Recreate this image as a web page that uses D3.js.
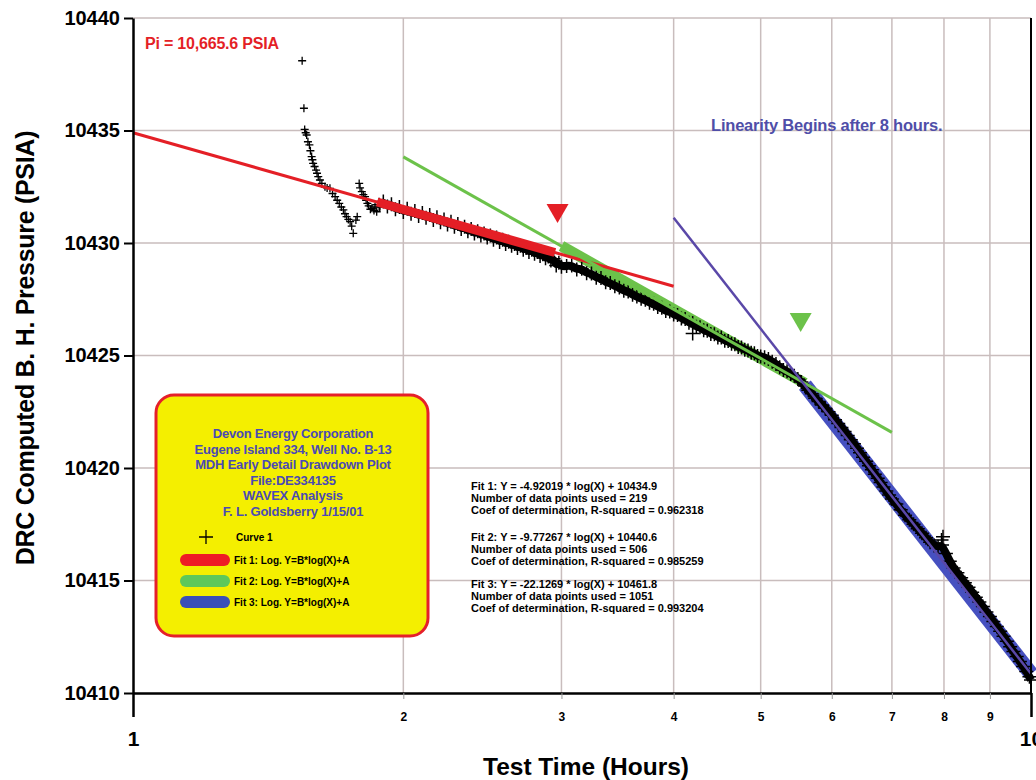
<!DOCTYPE html>
<html>
<head>
<meta charset="utf-8">
<script src="https://cdn.jsdelivr.net/npm/d3@7"></script>
<style>
  body { margin: 0; background: #fff; }
  text { font-family: "Liberation Sans", Arial, sans-serif; font-weight: bold; }
</style>
</head>
<body>
<script>
// ---- data ----
const yTicks = [10410, 10415, 10420, 10425, 10430, 10435, 10440];
const xMinorTicks = [2, 3, 4, 5, 6, 7, 8, 9];
const xMajorTicks = [1, 10];

// early transient (time hrs, pressure psia)
const curveEarly = [
  [1.543,10438.10],[1.550,10435.99],[1.553,10435.05],[1.557,10434.90],[1.561,10434.80],[1.566,10434.50],
  [1.572,10434.36],[1.576,10434.10],[1.581,10433.84],[1.584,10433.70],[1.587,10433.54],[1.593,10433.40],
  [1.599,10433.24],[1.603,10433.10],[1.608,10432.95],[1.615,10432.80],[1.623,10432.65],[1.636,10432.50],
  [1.645,10432.45],[1.657,10432.43],[1.668,10432.20],[1.679,10432.06],[1.688,10431.90],[1.697,10431.76],
  [1.706,10431.60],[1.715,10431.47],[1.722,10431.30],[1.729,10431.17],[1.737,10431.05],[1.745,10430.95],
  [1.752,10430.75],[1.759,10430.43],[1.771,10431.02],[1.777,10431.17],[1.786,10432.65],[1.790,10432.45],
  [1.798,10432.28],[1.805,10432.15],[1.813,10432.06],[1.818,10431.90],[1.824,10431.76],[1.830,10431.65],
  [1.838,10431.50],[1.845,10431.54],[1.855,10431.45],[1.860,10431.60],[1.868,10431.39],[1.884,10431.61]
];

// fit 1 zone
const curveZone1 = [
  [1.88,10431.70],[1.90,10431.85],[1.92,10431.62],[1.94,10431.72],[1.96,10431.50],[1.98,10431.60],
  [2.00,10431.38],[2.02,10431.52],[2.04,10431.30],[2.06,10431.42],[2.08,10431.20],[2.10,10431.33],
  [2.12,10431.12],[2.14,10431.24],[2.16,10431.02],[2.18,10431.14],[2.20,10430.92],[2.22,10431.04],
  [2.24,10430.82],[2.26,10430.94],[2.28,10430.72],[2.30,10430.84],[2.32,10430.62],[2.34,10430.72],
  [2.36,10430.52],[2.38,10430.62],[2.40,10430.42],[2.42,10430.52],[2.44,10430.33],[2.46,10430.42],
  [2.48,10430.24],[2.50,10430.33],[2.52,10430.14],[2.54,10430.24],[2.56,10430.05],[2.58,10430.14],
  [2.60,10429.96],[2.62,10430.06],[2.64,10429.88],[2.66,10429.96],[2.68,10429.78],[2.70,10429.88],
  [2.72,10429.70],[2.74,10429.78],[2.76,10429.60],[2.78,10429.70],[2.80,10429.52],[2.82,10429.60],
  [2.84,10429.42],[2.86,10429.50],[2.88,10429.32],[2.90,10429.40],[2.92,10429.22],[2.94,10429.30],
  [2.96,10429.00],[2.98,10429.12],[3.00,10428.95]
];

// fit 2 zone
const curveZone2 = [
  [3.04,10428.98],[3.08,10429.00],[3.12,10428.82],[3.16,10428.86],[3.20,10428.66],[3.24,10428.64],
  [3.28,10428.46],[3.32,10428.44],[3.36,10428.26],[3.40,10428.22],[3.44,10428.08],[3.48,10428.02],
  [3.52,10427.88],[3.56,10427.84],[3.60,10427.70],[3.64,10427.62],[3.68,10427.52],[3.72,10427.48],
  [3.76,10427.34],[3.80,10427.30],[3.84,10427.16],[3.88,10427.12],[3.92,10426.98],[3.96,10426.96],
  [4.00,10426.82],[4.04,10426.80],[4.08,10426.64],[4.12,10426.62],[4.16,10426.46],[4.20,10426.44],
  [4.24,10426.28],[4.28,10426.26],[4.32,10426.12],[4.36,10426.10],[4.40,10425.96],
  [4.44,10425.94],[4.48,10425.80],[4.52,10425.80],[4.56,10425.66],[4.60,10425.64],[4.64,10425.52],
  [4.68,10425.50],[4.72,10425.38],[4.76,10425.36],[4.80,10425.26],[4.84,10425.22],[4.88,10425.12],
  [4.92,10425.10],[4.96,10424.98],[5.00,10424.96]
];

// fit 3 zone
const curveZone3 = [
  [5.05,10424.92],[5.10,10424.84],[5.15,10424.72],[5.20,10424.62],[5.25,10424.48],[5.30,10424.36],
  [5.35,10424.30],[5.40,10424.18],[5.45,10424.10],[5.50,10423.96],[5.55,10423.82],[5.60,10423.64],
  [5.65,10423.46],[5.70,10423.30],[5.75,10423.10],[5.80,10422.96],[5.85,10422.80],[5.90,10422.66],
  [5.95,10422.50],[6.00,10422.34],[6.05,10422.14],[6.10,10421.98],[6.15,10421.80],[6.20,10421.62],
  [6.25,10421.44],[6.30,10421.26],[6.35,10421.08],[6.40,10420.88],[6.45,10420.68],[6.50,10420.48],
  [6.55,10420.30],[6.60,10420.10],[6.65,10419.92],[6.70,10419.72],[6.75,10419.54],[6.80,10419.36],
  [6.85,10419.16],[6.90,10418.98],[6.95,10418.80],[7.00,10418.62],[7.08,10418.40],[7.16,10418.14],
  [7.24,10417.90],[7.32,10417.70],[7.40,10417.50],[7.48,10417.30],[7.56,10417.10],[7.64,10416.90],
  [7.72,10416.70],[7.80,10416.56],[7.88,10416.50],[7.96,10416.58],
  [8.04,10416.20],[8.12,10415.86],[8.20,10415.56],[8.28,10415.34],[8.36,10415.12],[8.44,10414.90],
  [8.52,10414.70],[8.60,10414.48],[8.68,10414.26],[8.76,10414.04],[8.84,10413.84],[8.92,10413.60],
  [9.00,10413.40],[9.08,10413.18],[9.16,10412.96],[9.24,10412.74],[9.32,10412.52],[9.40,10412.30],
  [9.48,10412.06],[9.56,10411.84],[9.64,10411.62],[9.72,10411.40],[9.80,10411.18],[9.88,10410.96],
  [9.96,10410.72],[10.00,10410.58]
];

// stray points off the main trend
const curveStray = [[4.20,10425.98],[7.95,10416.80],[7.98,10416.95]];

// fits: Y = B*ln(X) + A
const fitNames = ["Fit 1", "Fit 2", "Fit 3"];
const fitB = [-4.92019, -9.77267, -22.1269];
const fitA = [10434.9, 10440.6, 10461.8];
const fitCount = [219, 506, 1051];
const fitR2 = ["0.962318", "0.985259", "0.993204"];
const fitLineSpan = [[1, 4], [2, 7], [4, 10]];
const fitUsedSpan = [[1.87, 2.95], [3.0, 5.6], [5.6, 10]];

// downward triangle markers (tip time, tip pressure)
const markerTimes = [2.97, 5.54];
const markerPress = [10430.89, 10426.04];

const legendTitle = [
  "Devon Energy Corporation",
  "Eugene Island 334, Well No. B-13",
  "MDH Early Detail Drawdown Plot",
  "File:DE334135",
  "WAVEX Analysis",
  "F. L. Goldsberry 1/15/01"
];

// ---- drawing ----
const W = 1036, H = 780;
const svg = d3.select('body').append('svg').attr('width', W).attr('height', H);

const x = d3.scaleLog().domain([1, 10]).range([133, 1031]);
const y = d3.scaleLinear().domain([10410, 10440]).range([693, 18]);

const redC = '#e41f26', greenC = '#6cc24a', blueThin = '#5a48a8', blueThick = '#4650c0';
const fitColors = [redC, greenC, blueThin];

// grid
svg.append('g').selectAll('line').data(yTicks.filter(d => d > 10410)).join('line')
  .attr('x1', x(1)).attr('x2', x(10))
  .attr('y1', d => y(d)).attr('y2', d => y(d))
  .attr('stroke', '#c9bdbd').attr('stroke-width', 1.5);
svg.append('g').selectAll('line').data(xMinorTicks).join('line')
  .attr('x1', d => x(d)).attr('x2', d => x(d))
  .attr('y1', y(10440)).attr('y2', y(10410))
  .attr('stroke', '#c9bdbd').attr('stroke-width', 1.5);

const fitY = (i, t) => fitB[i] * Math.log(t) + fitA[i];

// thick fit bands under the data (fit 2, fit 3)
[[1, greenC, 11], [2, blueThick, 15]].forEach(([i, c, w]) => {
  const s = fitUsedSpan[i];
  svg.append('line')
    .attr('x1', x(s[0])).attr('y1', y(fitY(i, s[0])))
    .attr('x2', x(s[1])).attr('y2', y(fitY(i, s[1])))
    .attr('stroke', c).attr('stroke-width', w);
});

// data crosses
const crossPath = (d, s) => `M${x(d[0]) - s},${y(d[1])}h${2 * s}M${x(d[0])},${y(d[1]) - s}v${2 * s}`;
svg.append('g').selectAll('path').data(curveEarly).join('path')
  .attr('d', d => crossPath(d, 4))
  .attr('stroke', '#000').attr('stroke-width', 1.3).attr('fill', 'none');

const densePts = curveZone1.concat(curveZone2, curveZone3);
// the dense run of crosses merges into a solid band
svg.append('path').datum(densePts)
  .attr('d', d3.line().x(d => x(d[0])).y(d => y(d[1])).curve(d3.curveBasis))
  .attr('fill', 'none').attr('stroke', '#000').attr('stroke-width', 8).attr('stroke-linejoin', 'round');
svg.append('g').selectAll('path').data(densePts.concat(curveStray)).join('path')
  .attr('d', d => crossPath(d, 7))
  .attr('stroke', '#000').attr('stroke-width', 1.5).attr('fill', 'none');

// thick red band over fit 1 data
{
  const s = fitUsedSpan[0];
  svg.append('line')
    .attr('x1', x(s[0])).attr('y1', y(fitY(0, s[0])))
    .attr('x2', x(s[1])).attr('y2', y(fitY(0, s[1])))
    .attr('stroke', redC).attr('stroke-width', 9);
}

// thin fit lines
fitLineSpan.forEach((s, i) => {
  svg.append('line')
    .attr('x1', x(s[0])).attr('y1', y(fitY(i, s[0])))
    .attr('x2', x(s[1])).attr('y2', y(fitY(i, s[1])))
    .attr('stroke', fitColors[i]).attr('stroke-width', i === 2 ? 2.5 : 3);
});

// triangles
const triColors = [redC, greenC];
markerTimes.forEach((t, i) => {
  const tx = x(t), ty = y(markerPress[i]);
  svg.append('path')
    .attr('d', `M${tx},${ty}L${tx - 11},${ty - 19}L${tx + 11},${ty - 19}Z`)
    .attr('fill', triColors[i]);
});

// axes
const yAxis = svg.append('g').attr('transform', `translate(${x(1)},0)`)
  .call(d3.axisLeft(y).tickValues(yTicks).tickSize(9).tickSizeOuter(0).tickPadding(4).tickFormat(d3.format('d')));
yAxis.selectAll('text').style('font-size', '20px').attr('fill', '#000');
yAxis.selectAll('line').attr('stroke', '#000').attr('stroke-width', 2);
yAxis.select('.domain').attr('stroke', '#000').attr('stroke-width', 2.5);

const xAxisMinor = svg.append('g').attr('transform', `translate(0,${y(10410)})`)
  .call(d3.axisBottom(x).tickValues(xMinorTicks).tickSize(6).tickSizeOuter(0).tickPadding(13).tickFormat(d3.format('d')));
xAxisMinor.selectAll('text').style('font-size', '12px').attr('fill', '#000');
xAxisMinor.selectAll('line').attr('stroke', '#999');
xAxisMinor.select('.domain').attr('stroke', '#000').attr('stroke-width', 2.5);

const xAxisMajor = svg.append('g').attr('transform', `translate(0,${y(10410)})`)
  .call(d3.axisBottom(x).tickValues(xMajorTicks).tickSize(24).tickSizeOuter(0).tickPadding(14).tickFormat(d3.format('d')));
xAxisMajor.selectAll('text').style('font-size', '21px').attr('fill', '#000');
xAxisMajor.selectAll('line').attr('stroke', '#000').attr('stroke-width', 2.5);
xAxisMajor.select('.domain').remove();

// right border
svg.append('line').attr('x1', x(10)).attr('x2', x(10)).attr('y1', y(10440)).attr('y2', y(10410))
  .attr('stroke', '#000').attr('stroke-width', 2);

// axis titles
svg.append('text').attr('x', 586).attr('y', 775).attr('text-anchor', 'middle')
  .style('font-size', '24.5px').text('Test Time (Hours)');
svg.append('text').attr('transform', 'translate(34,348) rotate(-90)').attr('text-anchor', 'middle')
  .style('font-size', '25px').style('letter-spacing', '-0.3px').text('DRC Computed B. H. Pressure (PSIA)');

// annotations
svg.append('text').attr('x', 145).attr('y', 49).attr('fill', redC)
  .style('font-size', '16px').style('letter-spacing', '-0.2px').text('Pi = 10,665.6 PSIA');
svg.append('text').attr('x', 711).attr('y', 131).attr('fill', '#4f4ea8')
  .style('font-size', '16.5px').style('letter-spacing', '-0.2px').text('Linearity Begins after 8 hours.');

// fit results text
const fitText = svg.append('g').style('font-size', '11px').attr('fill', '#000');
const blockTop = [490, 541, 588];
fitNames.forEach((n, i) => {
  const sign = fitB[i] < 0 ? '-' : '';
  const lines = [
    `${n}:  Y = ${sign}${Math.abs(fitB[i])} * log(X) + ${fitA[i]}`,
    `Number of data points used = ${fitCount[i]}`,
    `Coef of determination, R-squared = ${fitR2[i]}`
  ];
  lines.forEach((l, j) => {
    fitText.append('text').attr('x', 471).attr('y', blockTop[i] + j * 12).text(l);
  });
});

// legend box
const lg = svg.append('g');
lg.append('rect').attr('x', 156).attr('y', 395).attr('width', 272).attr('height', 241)
  .attr('rx', 18).attr('fill', '#f4ef00').attr('stroke', '#e5202a').attr('stroke-width', 3);
legendTitle.forEach((l, i) => {
  lg.append('text').attr('x', 293).attr('y', 438 + i * 15.6).attr('text-anchor', 'middle')
    .attr('fill', '#4a4ab4').style('font-size', '13px').style('letter-spacing', '-0.2px').text(l);
});
lg.append('path').attr('d', 'M199,537h14M206,530v14').attr('stroke', '#000').attr('stroke-width', 1.3);
lg.append('text').attr('x', 236).attr('y', 541).style('font-size', '10px').text('Curve 1');
const swatchColors = ['#ee1c25', '#5ec85a', '#3a4fb8'];
const swY = [560, 581, 602];
fitNames.forEach((n, i) => {
  lg.append('line').attr('x1', 186).attr('x2', 224).attr('y1', swY[i]).attr('y2', swY[i])
    .attr('stroke', swatchColors[i]).attr('stroke-width', 12).attr('stroke-linecap', 'round');
  lg.append('text').attr('x', 234).attr('y', swY[i] + 4).style('font-size', '10px')
    .text(`${n}:  Log. Y=B*log(X)+A`);
});
</script>
</body>
</html>
